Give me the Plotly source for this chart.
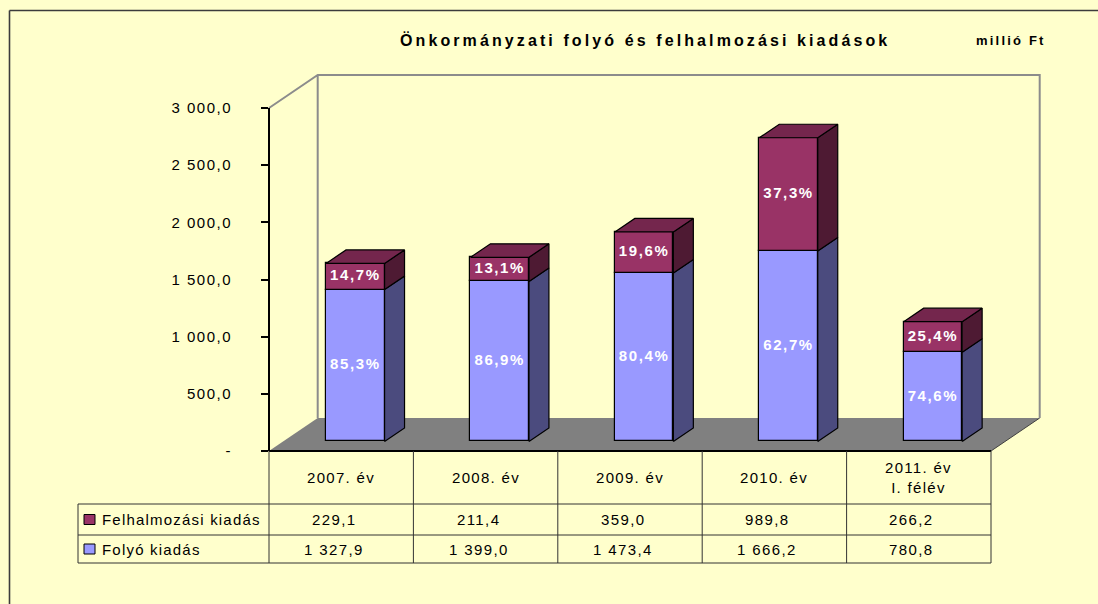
import plotly.graph_objects as go

# ---------------- data ----------------
categories = ["2007. év", "2008. év", "2009. év", "2010. év", "2011. év<br>I. félév"]
felhalmozasi = [229.1, 211.4, 359.0, 989.8, 266.2]
folyo = [1327.9, 1399.0, 1473.4, 1666.2, 780.8]
series_names = ["Felhalmozási kiadás", "Folyó kiadás"]
y_tickvals = [0, 500, 1000, 1500, 2000, 2500, 3000]
y_ticktext = ["-", "500,0", "1 000,0", "1 500,0", "2 000,0", "2 500,0", "3 000,0"]
title_text = "Önkormányzati folyó és felhalmozási kiadások"
unit_text = "millió Ft"

# ---------------- layout geometry ----------------
W, H = 1098, 604
AX_X = 269.0          # px of value axis / left of category 0
AX_Y0 = 451.0         # px of value 0
AX_YTOP = 108.0       # px of value 3000
VMAX = 3000.0
COLW = 144.4          # px per category
S = (AX_Y0 - AX_YTOP) / VMAX   # px per value unit
DEPTH_PX = (48.7, 33.0)
DDX = DEPTH_PX[0] / COLW
DDY = DEPTH_PX[1] / S
F0, F1 = 0.29, 0.70   # front / back depth of bars
BW = 58.5 / COLW      # bar width in category units
N = len(categories)

FONT = "Liberation Sans, Arial, sans-serif"
BG = "#FFFFCC"
BLUE, BLUE_SIDE = "#9999FF", "#4B4B7E"
RED, RED_SIDE, RED_TOP = "#993366", "#4E1A33", "#74264D"


def ls(txt, sp):
    return f'<span style="letter-spacing:{sp}px">{txt}</span>'


def fmt(v):
    return f"{v:,.1f}".replace(",", " ").replace(".", ",")


def pxx(x):
    return x / W


def pxy(y):
    return 1 - y / H


fig = go.Figure()

idx = list(range(N))
totals = [a + b for a, b in zip(folyo, felhalmozasi)]
lows = [[0.0] * N, folyo]
highs = [folyo, totals]
segs = [folyo, felhalmozasi]
fronts = [BLUE, RED]
sides = [BLUE_SIDE, RED_SIDE]

# front faces as bars
for k in range(2):
    fig.add_trace(go.Bar(
        x=[i + F0 * DDX for i in idx],
        y=segs[k],
        base=[lo + F0 * DDY for lo in lows[k]],
        width=BW,
        marker=dict(color=fronts[k], line=dict(color="black", width=1.2)),
        hoverinfo="skip", showlegend=False,
    ))

# side faces
for k in range(2):
    xs, ys = [], []
    for i in idx:
        xr = i + BW / 2 + F0 * DDX
        lo, hi = lows[k][i], highs[k][i]
        dx = (F1 - F0) * DDX
        xs += [xr, xr + dx, xr + dx, xr, xr, None]
        ys += [lo + F0 * DDY, lo + F1 * DDY, hi + F1 * DDY, hi + F0 * DDY, lo + F0 * DDY, None]
    fig.add_trace(go.Scatter(x=xs, y=ys, mode="lines", fill="toself",
                             fillcolor=sides[k], line=dict(color="black", width=1.2),
                             hoverinfo="skip", showlegend=False, cliponaxis=False))

# top faces
xs, ys = [], []
for i in idx:
    xl = i - BW / 2 + F0 * DDX
    xr = i + BW / 2 + F0 * DDX
    dx = (F1 - F0) * DDX
    t = totals[i]
    xs += [xl, xr, xr + dx, xl + dx, xl, None]
    ys += [t + F0 * DDY, t + F0 * DDY, t + F1 * DDY, t + F1 * DDY, t + F0 * DDY, None]
fig.add_trace(go.Scatter(x=xs, y=ys, mode="lines", fill="toself", fillcolor=RED_TOP,
                         line=dict(color="black", width=1.2), hoverinfo="skip", showlegend=False))

# percentage labels
lx, lyv, lt = [], [], []
for k in range(2):
    for i in idx:
        lo, hi = lows[k][i], highs[k][i]
        pct = segs[k][i] / totals[i] * 100
        lx.append(i + F0 * DDX)
        lyv.append((lo + hi) / 2 + F0 * DDY)
        lt.append(ls(f"{pct:.1f}".replace(".", ",") + "%", 1.6))
fig.add_trace(go.Scatter(x=lx, y=lyv, mode="text", text=lt,
                         textfont=dict(family=FONT, size=15, color="white", weight="bold"),
                         textposition="middle center", hoverinfo="skip", showlegend=False))

# invisible trace for the visible value axis
fig.add_trace(go.Scatter(x=[0], y=[0], yaxis="y2", mode="markers",
                         marker=dict(opacity=0), hoverinfo="skip", showlegend=False))

shapes = []
# floor
x_l, x_r = -0.5, N - 0.5
floor_path = (f"M {x_l},0 L {x_r},0 L {x_r + DDX},{DDY} L {x_l + DDX},{DDY} Z")
shapes.append(dict(type="path", xref="x", yref="y", path=floor_path, fillcolor="#808080",
                   line=dict(width=0), layer="below"))
shapes.append(dict(type="line", xref="x", yref="y", x0=x_r, y0=0, x1=x_r + DDX, y1=DDY,
                   line=dict(color="#404040", width=1), layer="below"))
# back wall frame
wall_path = (f"M {x_l},{VMAX} L {x_l + DDX},{VMAX + DDY} L {x_r + DDX},{VMAX + DDY} "
             f"L {x_r + DDX},{DDY} M {x_l + DDX},{DDY} L {x_l + DDX},{VMAX + DDY}")
shapes.append(dict(type="path", xref="x", yref="y", path=wall_path,
                   line=dict(color="#8C8C8C", width=2), layer="below"))
# category axis line (table top)
shapes.append(dict(type="line", xref="x", yref="y", x0=x_l, y0=0, x1=x_r, y1=0,
                   line=dict(color="black", width=2)))

# table
T_TOP, T_H1, T_R1, T_R2 = 451, 504, 535, 563
T_LEFT = 78
TAB_COL = "#333333"
for kk in range(N + 1):
    xp = AX_X + kk * COLW
    shapes.append(dict(type="line", xref="paper", yref="paper", x0=pxx(xp), x1=pxx(xp),
                       y0=pxy(T_TOP), y1=pxy(T_R2), line=dict(color=TAB_COL, width=1)))
for yy in (T_H1, T_R1, T_R2):
    shapes.append(dict(type="line", xref="paper", yref="paper", x0=pxx(T_LEFT),
                       x1=pxx(AX_X + N * COLW), y0=pxy(yy), y1=pxy(yy),
                       line=dict(color=TAB_COL, width=1)))
shapes.append(dict(type="line", xref="paper", yref="paper", x0=pxx(T_LEFT), x1=pxx(T_LEFT),
                   y0=pxy(T_H1), y1=pxy(T_R2), line=dict(color=TAB_COL, width=1)))

# outer frame (top + left visible)
shapes.append(dict(type="line", xref="paper", yref="paper", x0=pxx(9.5), x1=1.01,
                   y0=pxy(10.5), y1=pxy(10.5), line=dict(color="#3C3C3C", width=1.6)))
shapes.append(dict(type="line", xref="paper", yref="paper", x0=pxx(9.5), x1=pxx(9.5),
                   y0=pxy(10.5), y1=-0.01, line=dict(color="#3C3C3C", width=1.6)))

annotations = []
row_centers = [(T_H1 + T_R1) / 2, (T_R1 + T_R2) / 2]
row_data = [felhalmozasi, folyo]
row_colors = [RED, BLUE]
for r in range(2):
    yc = row_centers[r]
    shapes.append(dict(type="rect", xref="paper", yref="paper", x0=pxx(84), x1=pxx(95),
                       y0=pxy(yc + 5), y1=pxy(yc - 5), fillcolor=row_colors[r],
                       line=dict(color="black", width=1)))
    annotations.append(dict(x=pxx(100), y=pxy(yc), xref="paper", yref="paper",
                            xanchor="left", yanchor="middle", showarrow=False,
                            text=ls(series_names[r], 1.2),
                            font=dict(family=FONT, size=15, color="black")))
    for i in idx:
        xc = AX_X + (i + 0.5) * COLW
        annotations.append(dict(x=pxx(xc), y=pxy(yc), xref="paper", yref="paper",
                                xanchor="center", yanchor="middle", showarrow=False,
                                xshift=-7, text=ls(fmt(row_data[r][i]), 1.4),
                                font=dict(family=FONT, size=15, color="black")))
for i in idx:
    xc = AX_X + (i + 0.5) * COLW
    annotations.append(dict(x=pxx(xc), y=pxy((T_TOP + T_H1) / 2), xref="paper", yref="paper",
                            xanchor="center", yanchor="middle", showarrow=False,
                            text="<br>".join(ls(p, 1.3) for p in categories[i].split("<br>")),
                            font=dict(family=FONT, size=15, color="black")))

annotations.append(dict(x=pxx(645), y=pxy(40), xref="paper", yref="paper",
                        xanchor="center", yanchor="middle", showarrow=False,
                        text=ls(title_text, 3.1),
                        font=dict(family=FONT, size=16, color="black", weight="bold")))
annotations.append(dict(x=pxx(1011), y=pxy(40), xref="paper", yref="paper",
                        xanchor="center", yanchor="middle", showarrow=False,
                        text=ls(unit_text, 2.2),
                        font=dict(family=FONT, size=13, color="black", weight="bold")))

fig.update_layout(
    width=W, height=H, autosize=False,
    margin=dict(l=0, r=0, t=0, b=0, pad=0, autoexpand=False),
    paper_bgcolor=BG, plot_bgcolor="rgba(0,0,0,0)",
    barmode="overlay", bargap=0,
    showlegend=False, hovermode=False,
    xaxis=dict(range=[-0.5 - AX_X / COLW, -0.5 + (W - AX_X) / COLW], visible=False,
               fixedrange=True, domain=[0, 1], automargin=False),
    yaxis=dict(range=[-(H - AX_Y0) / S, AX_Y0 / S], visible=False, fixedrange=True,
               domain=[0, 1], automargin=False),
    yaxis2=dict(range=[0, VMAX], domain=[1 - AX_Y0 / H, 1 - AX_YTOP / H],
                anchor="free", position=AX_X / W, side="left", automargin=False,
                tickvals=y_tickvals, ticktext=[ls(t, 1.5) for t in y_ticktext],
                ticks="outside", ticklen=7, tickwidth=1.5, tickcolor="black",
                showline=True, linecolor="black", linewidth=2,
                showgrid=False, zeroline=False, ticklabelstandoff=26,
                tickfont=dict(family=FONT, size=15, color="black"), fixedrange=True),
    shapes=shapes, annotations=annotations,
)

post = (
    "document.documentElement.style.margin='0';"
    "document.documentElement.style.overflow='hidden';"
    "document.body.style.margin='0';"
    "document.body.style.overflow='hidden';"
    "var d=document.getElementById('{plot_id}');"
    "d.style.position='fixed';d.style.left='0px';d.style.top='0px';"
)
fig.write_html("out.html", config={"displayModeBar": False, "responsive": False},
               post_script=post)
